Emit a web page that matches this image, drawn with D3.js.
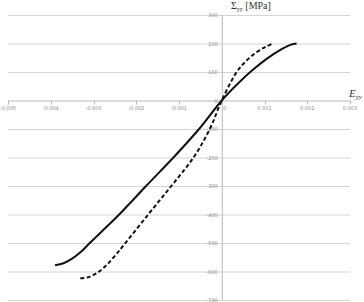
<!DOCTYPE html>
<html>
<head>
<meta charset="utf-8">
<script src="https://cdn.jsdelivr.net/npm/d3@7"></script>
<style>
  body { margin: 0; background: #fff; }
  svg { display: block; }
</style>
</head>
<body>
<div id="chart"></div>
<script>
// strain values (E_yy) and stress (Sigma_yy, MPa)
var solidX = [-0.00390, -0.00370, -0.00350, -0.00330, -0.00310, -0.00240, -0.00177, -0.00113, -0.00053, 0, 0.00035, 0.00070, 0.00105, 0.00140, 0.00162, 0.00175];
var solidY = [-578, -571, -555, -532, -502, -400, -300, -200, -100, 0, 55, 104, 146, 180, 196, 200];
var dashX = [-0.00331, -0.00315, -0.00300, -0.00285, -0.00268, -0.00250, -0.00228, -0.00172, -0.00118, -0.00066, -0.00028, 0, 0.00035, 0.00058, 0.00082, 0.00105, 0.00120];
var dashY = [-624, -621, -612, -598, -575, -545, -505, -400, -300, -200, -100, 0, 100, 140, 170, 190, 200];

var xTicks = [-0.005, -0.004, -0.003, -0.002, -0.001, 0, 0.001, 0.002, 0.003];
var yTicks = [300, 200, 100, 0, -100, -200, -300, -400, -500, -600, -700];

var width = 364, height = 302;

var x = d3.scaleLinear().domain([-0.005, 0.003]).range([8, 350]);
var y = d3.scaleLinear().domain([-700, 300]).range([300, 15]);

var svg = d3.select("#chart").append("svg")
    .attr("width", width)
    .attr("height", height);

// horizontal grid lines
svg.selectAll("line.grid")
    .data(yTicks)
    .enter().append("line")
    .attr("class", "grid")
    .attr("x1", x(-0.005))
    .attr("x2", x(0.003))
    .attr("y1", function (d) { return y(d) + 0.5; })
    .attr("y2", function (d) { return y(d) + 0.5; })
    .attr("stroke", function (d) { return d == 0 ? "#b8b8b8" : "#d4d4d4"; })
    .attr("stroke-width", 1);

// vertical axis
svg.append("line")
    .attr("x1", x(0) + 0.5).attr("x2", x(0) + 0.5)
    .attr("y1", y(300)).attr("y2", y(-700))
    .attr("stroke", "#b8b8b8");

// x tick marks
svg.selectAll("line.xtick")
    .data(xTicks)
    .enter().append("line")
    .attr("class", "xtick")
    .attr("x1", function (d) { return Math.round(x(d)) + 0.5; })
    .attr("x2", function (d) { return Math.round(x(d)) + 0.5; })
    .attr("y1", y(0))
    .attr("y2", y(0) + 4)
    .attr("stroke", "#b8b8b8");

// x tick labels
svg.selectAll("text.xlab")
    .data(xTicks)
    .enter().append("text")
    .attr("class", "xlab")
    .attr("x", function (d) { return d == 0 ? x(d) + 3 : x(d); })
    .attr("y", y(0) + 9.5)
    .attr("text-anchor", "middle")
    .attr("font-family", "DejaVu Sans")
    .attr("font-size", 5)
    .attr("fill", "#8a8a8a")
    .text(function (d) { return d == 0 ? "0" : d.toFixed(3); });

// y tick labels
svg.selectAll("text.ylab")
    .data(yTicks)
    .enter().append("text")
    .attr("class", "ylab")
    .attr("x", x(0) - 4)
    .attr("y", function (d) { return y(d) + 2; })
    .attr("text-anchor", "end")
    .attr("font-family", "DejaVu Sans")
    .attr("font-size", 5)
    .attr("fill", "#8a8a8a")
    .text(function (d) { return d; });

var line = d3.line()
    .x(function (d) { return x(d[0]); })
    .y(function (d) { return y(d[1]); })
    .curve(d3.curveCatmullRom.alpha(0.5));

svg.append("path")
    .datum(d3.zip(solidX, solidY))
    .attr("d", line)
    .attr("fill", "none")
    .attr("stroke", "#111")
    .attr("stroke-width", 2);

svg.append("path")
    .datum(d3.zip(dashX, dashY))
    .attr("d", line)
    .attr("fill", "none")
    .attr("stroke", "#111")
    .attr("stroke-width", 2)
    .attr("stroke-dasharray", "4,2.5");

// axis titles
var yt = svg.append("text")
    .attr("x", 231)
    .attr("y", 9)
    .attr("font-family", "Liberation Serif")
    .attr("font-size", 10)
    .attr("fill", "#333");
yt.append("tspan").text("Σ");
yt.append("tspan").attr("font-size", 6).attr("dy", 1.5).text("yy");
yt.append("tspan").attr("dy", -1.5).text(" [MPa]");

var xt = svg.append("text")
    .attr("x", 349)
    .attr("y", 97)
    .attr("font-family", "Liberation Serif")
    .attr("font-style", "italic")
    .attr("font-size", 11)
    .attr("fill", "#333");
xt.append("tspan").text("E");
xt.append("tspan").attr("font-size", 7).attr("dy", 2).text("yy");
</script>
</body>
</html>
